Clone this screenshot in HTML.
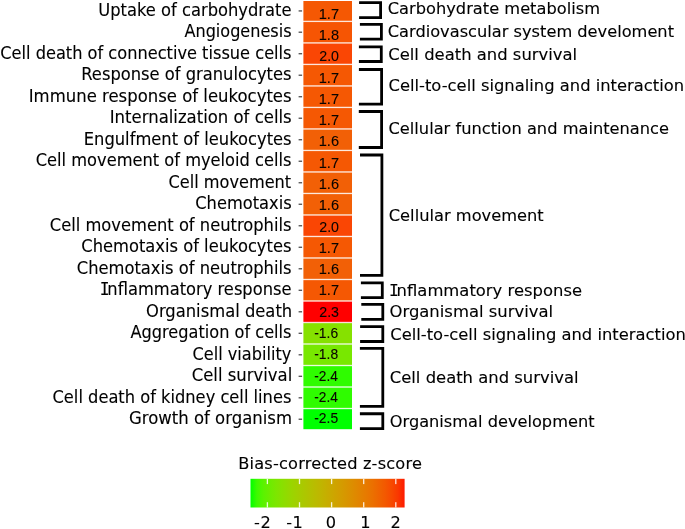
<!DOCTYPE html>
<html><head><meta charset="utf-8"><title>Heatmap</title>
<style>
html,body{margin:0;padding:0;background:#fff;}
svg{display:block}
.ll{font-family:"DejaVu Sans","Liberation Sans",sans-serif;font-size:17px;fill:#000;stroke:#000;stroke-width:0.12px;}
.l0{font-family:"DejaVu Sans","Liberation Sans",sans-serif;font-size:16.7px;fill:#000;stroke:#000;stroke-width:0.12px;}
.si{font-family:"DejaVu Sans Mono","Liberation Mono",monospace;}
.l{font-family:"DejaVu Sans","Liberation Sans",sans-serif;font-size:16.2px;fill:#000;stroke:#000;stroke-width:0.12px;}
.v{font-family:"Liberation Sans","DejaVu Sans",sans-serif;font-size:15.3px;fill:#0a0400;stroke:#0a0400;stroke-width:0.1px;}
</style></head><body>
<svg width="685" height="529" viewBox="0 0 685 529">
<rect width="685" height="529" fill="#fff"/>

<rect x="303.4" y="1.00" width="48.6" height="19.76" fill="#f55803"/>
<rect x="303.4" y="20.76" width="48.6" height="1.3" fill="#f55803" opacity="0.14"/>
<text id="L0" class="ll" x="98.25" y="15.55" textLength="193.25" lengthAdjust="spacingAndGlyphs">Uptake of carbohydrate</text>
<rect x="298.6" y="10.28" width="3.5" height="1.3" fill="#505050"/>
<text id="V0" class="v" x="318.75" y="18.80" textLength="20.28" lengthAdjust="spacingAndGlyphs">1.7</text>
<rect x="303.4" y="22.06" width="48.6" height="20.21" fill="#f65503"/>
<rect x="303.4" y="42.26" width="48.6" height="1.3" fill="#f65503" opacity="0.14"/>
<text id="L1" class="ll" x="184.50" y="37.05" textLength="107.03" lengthAdjust="spacingAndGlyphs">Angiogenesis</text>
<rect x="298.6" y="31.56" width="3.5" height="1.3" fill="#505050"/>
<text id="V1" class="v" x="318.75" y="40.08" textLength="20.28" lengthAdjust="spacingAndGlyphs">1.8</text>
<rect x="303.4" y="43.56" width="48.6" height="20.21" fill="#fa4604"/>
<rect x="303.4" y="63.77" width="48.6" height="1.3" fill="#fa4604" opacity="0.14"/>
<text id="L2" class="ll" x="0.25" y="58.55" textLength="291.29" lengthAdjust="spacingAndGlyphs">Cell death of connective tissue cells</text>
<rect x="298.6" y="53.07" width="3.5" height="1.3" fill="#505050"/>
<text id="V2" class="v" x="319.25" y="61.36" textLength="19.78" lengthAdjust="spacingAndGlyphs">2.0</text>
<rect x="303.4" y="65.07" width="48.6" height="20.21" fill="#f55803"/>
<rect x="303.4" y="85.27" width="48.6" height="1.3" fill="#f55803" opacity="0.14"/>
<text id="L3" class="ll" x="81.25" y="80.05" textLength="210.24" lengthAdjust="spacingAndGlyphs">Response of granulocytes</text>
<rect x="298.6" y="74.57" width="3.5" height="1.3" fill="#505050"/>
<text id="V3" class="v" x="318.75" y="82.64" textLength="20.28" lengthAdjust="spacingAndGlyphs">1.7</text>
<rect x="303.4" y="86.57" width="48.6" height="20.21" fill="#f55803"/>
<rect x="303.4" y="106.78" width="48.6" height="1.3" fill="#f55803" opacity="0.14"/>
<text id="L4" class="ll" x="28.75" y="101.55" textLength="262.85" lengthAdjust="spacingAndGlyphs">Immune response of leukocytes</text>
<rect x="298.6" y="96.08" width="3.5" height="1.3" fill="#505050"/>
<text id="V4" class="v" x="318.75" y="103.92" textLength="20.28" lengthAdjust="spacingAndGlyphs">1.7</text>
<rect x="303.4" y="108.08" width="48.6" height="20.21" fill="#f55803"/>
<rect x="303.4" y="128.29" width="48.6" height="1.3" fill="#f55803" opacity="0.14"/>
<text id="L5" class="ll" x="109.75" y="123.05" textLength="181.90" lengthAdjust="spacingAndGlyphs">Internalization of cells</text>
<rect x="298.6" y="117.58" width="3.5" height="1.3" fill="#505050"/>
<text id="V5" class="v" x="318.75" y="125.20" textLength="20.28" lengthAdjust="spacingAndGlyphs">1.7</text>
<rect x="303.4" y="129.59" width="48.6" height="20.21" fill="#f26006"/>
<rect x="303.4" y="149.79" width="48.6" height="1.3" fill="#f26006" opacity="0.14"/>
<text id="L6" class="ll" x="83.75" y="144.55" textLength="207.84" lengthAdjust="spacingAndGlyphs">Engulfment of leukocytes</text>
<rect x="298.6" y="139.09" width="3.5" height="1.3" fill="#505050"/>
<text id="V6" class="v" x="318.75" y="146.48" textLength="20.28" lengthAdjust="spacingAndGlyphs">1.6</text>
<rect x="303.4" y="151.09" width="48.6" height="20.21" fill="#f55803"/>
<rect x="303.4" y="171.30" width="48.6" height="1.3" fill="#f55803" opacity="0.14"/>
<text id="L7" class="ll" x="35.75" y="166.05" textLength="255.72" lengthAdjust="spacingAndGlyphs">Cell movement of myeloid cells</text>
<rect x="298.6" y="160.59" width="3.5" height="1.3" fill="#505050"/>
<text id="V7" class="v" x="318.75" y="167.76" textLength="20.28" lengthAdjust="spacingAndGlyphs">1.7</text>
<rect x="303.4" y="172.60" width="48.6" height="20.21" fill="#f26006"/>
<rect x="303.4" y="192.80" width="48.6" height="1.3" fill="#f26006" opacity="0.14"/>
<text id="L8" class="ll" x="168.50" y="187.55" textLength="122.70" lengthAdjust="spacingAndGlyphs">Cell movement</text>
<rect x="298.6" y="182.10" width="3.5" height="1.3" fill="#505050"/>
<text id="V8" class="v" x="318.75" y="189.04" textLength="20.28" lengthAdjust="spacingAndGlyphs">1.6</text>
<rect x="303.4" y="194.10" width="48.6" height="20.21" fill="#f26006"/>
<rect x="303.4" y="214.31" width="48.6" height="1.3" fill="#f26006" opacity="0.14"/>
<text id="L9" class="ll" x="195.25" y="209.05" textLength="96.38" lengthAdjust="spacingAndGlyphs">Chemotaxis</text>
<rect x="298.6" y="203.61" width="3.5" height="1.3" fill="#505050"/>
<text id="V9" class="v" x="318.75" y="210.32" textLength="20.28" lengthAdjust="spacingAndGlyphs">1.6</text>
<rect x="303.4" y="215.61" width="48.6" height="20.21" fill="#fa4604"/>
<rect x="303.4" y="235.82" width="48.6" height="1.3" fill="#fa4604" opacity="0.14"/>
<text id="L10" class="ll" x="49.75" y="230.55" textLength="241.79" lengthAdjust="spacingAndGlyphs">Cell movement of neutrophils</text>
<rect x="298.6" y="225.11" width="3.5" height="1.3" fill="#505050"/>
<text id="V10" class="v" x="319.25" y="231.60" textLength="19.78" lengthAdjust="spacingAndGlyphs">2.0</text>
<rect x="303.4" y="237.12" width="48.6" height="20.21" fill="#f55803"/>
<rect x="303.4" y="257.32" width="48.6" height="1.3" fill="#f55803" opacity="0.14"/>
<text id="L11" class="ll" x="81.25" y="252.05" textLength="210.22" lengthAdjust="spacingAndGlyphs">Chemotaxis of leukocytes</text>
<rect x="298.6" y="246.62" width="3.5" height="1.3" fill="#505050"/>
<text id="V11" class="v" x="318.75" y="252.88" textLength="20.28" lengthAdjust="spacingAndGlyphs">1.7</text>
<rect x="303.4" y="258.62" width="48.6" height="20.21" fill="#f26006"/>
<rect x="303.4" y="278.83" width="48.6" height="1.3" fill="#f26006" opacity="0.14"/>
<text id="L12" class="ll" x="76.75" y="273.55" textLength="214.76" lengthAdjust="spacingAndGlyphs">Chemotaxis of neutrophils</text>
<rect x="298.6" y="268.12" width="3.5" height="1.3" fill="#505050"/>
<text id="V12" class="v" x="318.75" y="274.16" textLength="20.28" lengthAdjust="spacingAndGlyphs">1.6</text>
<rect x="303.4" y="280.13" width="48.6" height="20.21" fill="#f55803"/>
<rect x="303.4" y="300.33" width="48.6" height="1.3" fill="#f55803" opacity="0.14"/>
<text id="L13" class="ll" x="99.75" y="295.05" textLength="191.77" lengthAdjust="spacingAndGlyphs"><tspan class="si">I</tspan><tspan dx="-2.3">nflammatory response</tspan></text>
<rect x="298.6" y="289.63" width="3.5" height="1.3" fill="#505050"/>
<text id="V13" class="v" x="318.75" y="295.44" textLength="20.28" lengthAdjust="spacingAndGlyphs">1.7</text>
<rect x="303.4" y="301.63" width="48.6" height="20.21" fill="#ff0000"/>
<rect x="303.4" y="321.84" width="48.6" height="1.3" fill="#ff0000" opacity="0.14"/>
<text id="L14" class="ll" x="146.00" y="316.55" textLength="146.19" lengthAdjust="spacingAndGlyphs">Organismal death</text>
<rect x="298.6" y="311.14" width="3.5" height="1.3" fill="#505050"/>
<text id="V14" class="v" x="319.25" y="316.72" textLength="19.78" lengthAdjust="spacingAndGlyphs">2.3</text>
<rect x="303.4" y="323.14" width="48.6" height="20.21" fill="#86e100"/>
<rect x="303.4" y="343.35" width="48.6" height="1.3" fill="#86e100" opacity="0.14"/>
<text id="L15" class="ll" x="130.50" y="338.05" textLength="160.98" lengthAdjust="spacingAndGlyphs">Aggregation of cells</text>
<rect x="298.6" y="332.64" width="3.5" height="1.3" fill="#505050"/>
<text id="V15" class="v" x="314.25" y="338.00" textLength="23.89" lengthAdjust="spacingAndGlyphs">-1.6</text>
<rect x="303.4" y="344.65" width="48.6" height="20.21" fill="#78e800"/>
<rect x="303.4" y="364.85" width="48.6" height="1.3" fill="#78e800" opacity="0.14"/>
<text id="L16" class="ll" x="192.50" y="359.55" textLength="98.84" lengthAdjust="spacingAndGlyphs">Cell viability</text>
<rect x="298.6" y="354.15" width="3.5" height="1.3" fill="#505050"/>
<text id="V16" class="v" x="314.25" y="359.28" textLength="23.89" lengthAdjust="spacingAndGlyphs">-1.8</text>
<rect x="303.4" y="366.15" width="48.6" height="20.21" fill="#2ffc00"/>
<rect x="303.4" y="386.36" width="48.6" height="1.3" fill="#2ffc00" opacity="0.14"/>
<text id="L17" class="ll" x="191.75" y="381.05" textLength="100.48" lengthAdjust="spacingAndGlyphs">Cell survival</text>
<rect x="298.6" y="375.65" width="3.5" height="1.3" fill="#505050"/>
<text id="V17" class="v" x="314.25" y="380.56" textLength="23.64" lengthAdjust="spacingAndGlyphs">-2.4</text>
<rect x="303.4" y="387.66" width="48.6" height="20.21" fill="#2ffc00"/>
<rect x="303.4" y="407.86" width="48.6" height="1.3" fill="#2ffc00" opacity="0.14"/>
<text id="L18" class="ll" x="52.50" y="402.55" textLength="238.90" lengthAdjust="spacingAndGlyphs">Cell death of kidney cell lines</text>
<rect x="298.6" y="397.16" width="3.5" height="1.3" fill="#505050"/>
<text id="V18" class="v" x="314.25" y="401.84" textLength="23.64" lengthAdjust="spacingAndGlyphs">-2.4</text>
<rect x="303.4" y="409.16" width="48.6" height="20.04" fill="#00ff00"/>
<text id="L19" class="ll" x="129.00" y="424.05" textLength="163.02" lengthAdjust="spacingAndGlyphs">Growth of organism</text>
<rect x="298.6" y="418.58" width="3.5" height="1.3" fill="#505050"/>
<text id="V19" class="v" x="314.25" y="423.12" textLength="23.89" lengthAdjust="spacingAndGlyphs">-2.5</text>
<path d="M359.1 2.55H380.60V17.6H359.1" fill="none" stroke="#000" stroke-width="2.8"/>
<text id="R0" class="l0" x="387.75" y="14.00" textLength="212.23" lengthAdjust="spacingAndGlyphs">Carbohydrate metabolism</text>
<path d="M359.9 24.4H381.40V39.2H359.9" fill="none" stroke="#000" stroke-width="2.8"/>
<text id="R1" class="l0" x="387.75" y="37.20" textLength="286.27" lengthAdjust="spacingAndGlyphs">Cardiovascular system develoment</text>
<path d="M358.9 46.8H381.30V61.5H358.9" fill="none" stroke="#000" stroke-width="2.8"/>
<text id="R2" class="l0" x="388.25" y="59.50" textLength="188.94" lengthAdjust="spacingAndGlyphs">Cell death and survival</text>
<path d="M358.9 69.5H381.60V104.15H358.9" fill="none" stroke="#000" stroke-width="2.8"/>
<text id="R3" class="l0" x="388.50" y="90.80" textLength="295.65" lengthAdjust="spacingAndGlyphs">Cell-to-cell signaling and interaction</text>
<path d="M358.8 111.5H381.60V147.5H358.8" fill="none" stroke="#000" stroke-width="2.8"/>
<text id="R4" class="l0" x="388.50" y="134.30" textLength="280.51" lengthAdjust="spacingAndGlyphs">Cellular function and maintenance</text>
<path d="M360.0 155.0H381.90V275.4H360.0" fill="none" stroke="#000" stroke-width="2.8"/>
<text id="R5" class="l0" x="388.75" y="220.90" textLength="154.98" lengthAdjust="spacingAndGlyphs">Cellular movement</text>
<path d="M360.9 282.8H382.30V297.65H360.9" fill="none" stroke="#000" stroke-width="2.8"/>
<text id="R6" class="l0" x="389.00" y="296.20" textLength="193.02" lengthAdjust="spacingAndGlyphs"><tspan class="si">I</tspan><tspan dx="-2.3">nflammatory response</tspan></text>
<path d="M361.3 304.4H382.80V319.3H361.3" fill="none" stroke="#000" stroke-width="2.8"/>
<text id="R7" class="l0" x="389.50" y="317.40" textLength="163.57" lengthAdjust="spacingAndGlyphs">Organismal survival</text>
<path d="M360.1 326.7H382.80V341.5H360.1" fill="none" stroke="#000" stroke-width="2.8"/>
<text id="R8" class="l0" x="390.25" y="339.70" textLength="295.55" lengthAdjust="spacingAndGlyphs">Cell-to-cell signaling and interaction</text>
<path d="M359.9 348.4H382.80V406.3H359.9" fill="none" stroke="#000" stroke-width="2.8"/>
<text id="R9" class="l0" x="389.75" y="383.00" textLength="188.84" lengthAdjust="spacingAndGlyphs">Cell death and survival</text>
<path d="M359.9 413.75H382.80V428.6H359.9" fill="none" stroke="#000" stroke-width="2.8"/>
<text id="R10" class="l0" x="389.75" y="427.30" textLength="204.78" lengthAdjust="spacingAndGlyphs">Organismal development</text>
<defs><linearGradient id="g" x1="0" x2="1" y1="0" y2="0"><stop offset="0.0000" stop-color="#00ff00"/><stop offset="0.0417" stop-color="#3ef900"/><stop offset="0.0833" stop-color="#5af300"/><stop offset="0.1250" stop-color="#6dec00"/><stop offset="0.1667" stop-color="#7de600"/><stop offset="0.2083" stop-color="#8adf00"/><stop offset="0.2500" stop-color="#96d800"/><stop offset="0.2917" stop-color="#a0d100"/><stop offset="0.3333" stop-color="#a9ca00"/><stop offset="0.3750" stop-color="#b1c300"/><stop offset="0.4167" stop-color="#b9bc00"/><stop offset="0.4583" stop-color="#c0b500"/><stop offset="0.5000" stop-color="#c7ad00"/><stop offset="0.5417" stop-color="#cda500"/><stop offset="0.5833" stop-color="#d39d00"/><stop offset="0.6250" stop-color="#d89500"/><stop offset="0.6667" stop-color="#dd8c00"/><stop offset="0.7083" stop-color="#e28300"/><stop offset="0.7500" stop-color="#e77a00"/><stop offset="0.7917" stop-color="#eb7000"/><stop offset="0.8333" stop-color="#ef6400"/><stop offset="0.8750" stop-color="#f35800"/><stop offset="0.9167" stop-color="#f74900"/><stop offset="0.9583" stop-color="#fa3700"/><stop offset="1.0000" stop-color="#fe1a00"/></linearGradient></defs>
<rect x="250.5" y="478.8" width="154.1" height="28.7" fill="url(#g)"/>
<text id="CT" class="l" x="238.25" y="469.40" textLength="183.65" lengthAdjust="spacing">Bias-corrected z-score</text>
<rect x="266.75" y="478.8" width="1.3" height="5.3" fill="#fff" opacity=".85"/><rect x="266.75" y="502.2" width="1.3" height="5.3" fill="#fff" opacity=".85"/>
<text id="C-2" class="l" x="254.10" y="527.60" textLength="16.74" lengthAdjust="spacing">-2</text>
<rect x="298.85" y="478.8" width="1.3" height="5.3" fill="#fff" opacity=".85"/><rect x="298.85" y="502.2" width="1.3" height="5.3" fill="#fff" opacity=".85"/>
<text id="C-1" class="l" x="286.30" y="527.60" textLength="16.49" lengthAdjust="spacing">-1</text>
<rect x="330.95" y="478.8" width="1.3" height="5.3" fill="#fff" opacity=".85"/><rect x="330.95" y="502.2" width="1.3" height="5.3" fill="#fff" opacity=".85"/>
<text id="C0" class="l" x="325.81" y="527.60">0</text>
<rect x="363.05" y="478.8" width="1.3" height="5.3" fill="#fff" opacity=".85"/><rect x="363.05" y="502.2" width="1.3" height="5.3" fill="#fff" opacity=".85"/>
<text id="C1" class="l" x="360.19" y="527.60">1</text>
<rect x="395.15" y="478.8" width="1.3" height="5.3" fill="#fff" opacity=".85"/><rect x="395.15" y="502.2" width="1.3" height="5.3" fill="#fff" opacity=".85"/>
<text id="C2" class="l" x="390.46" y="527.60">2</text>
</svg></body></html>
